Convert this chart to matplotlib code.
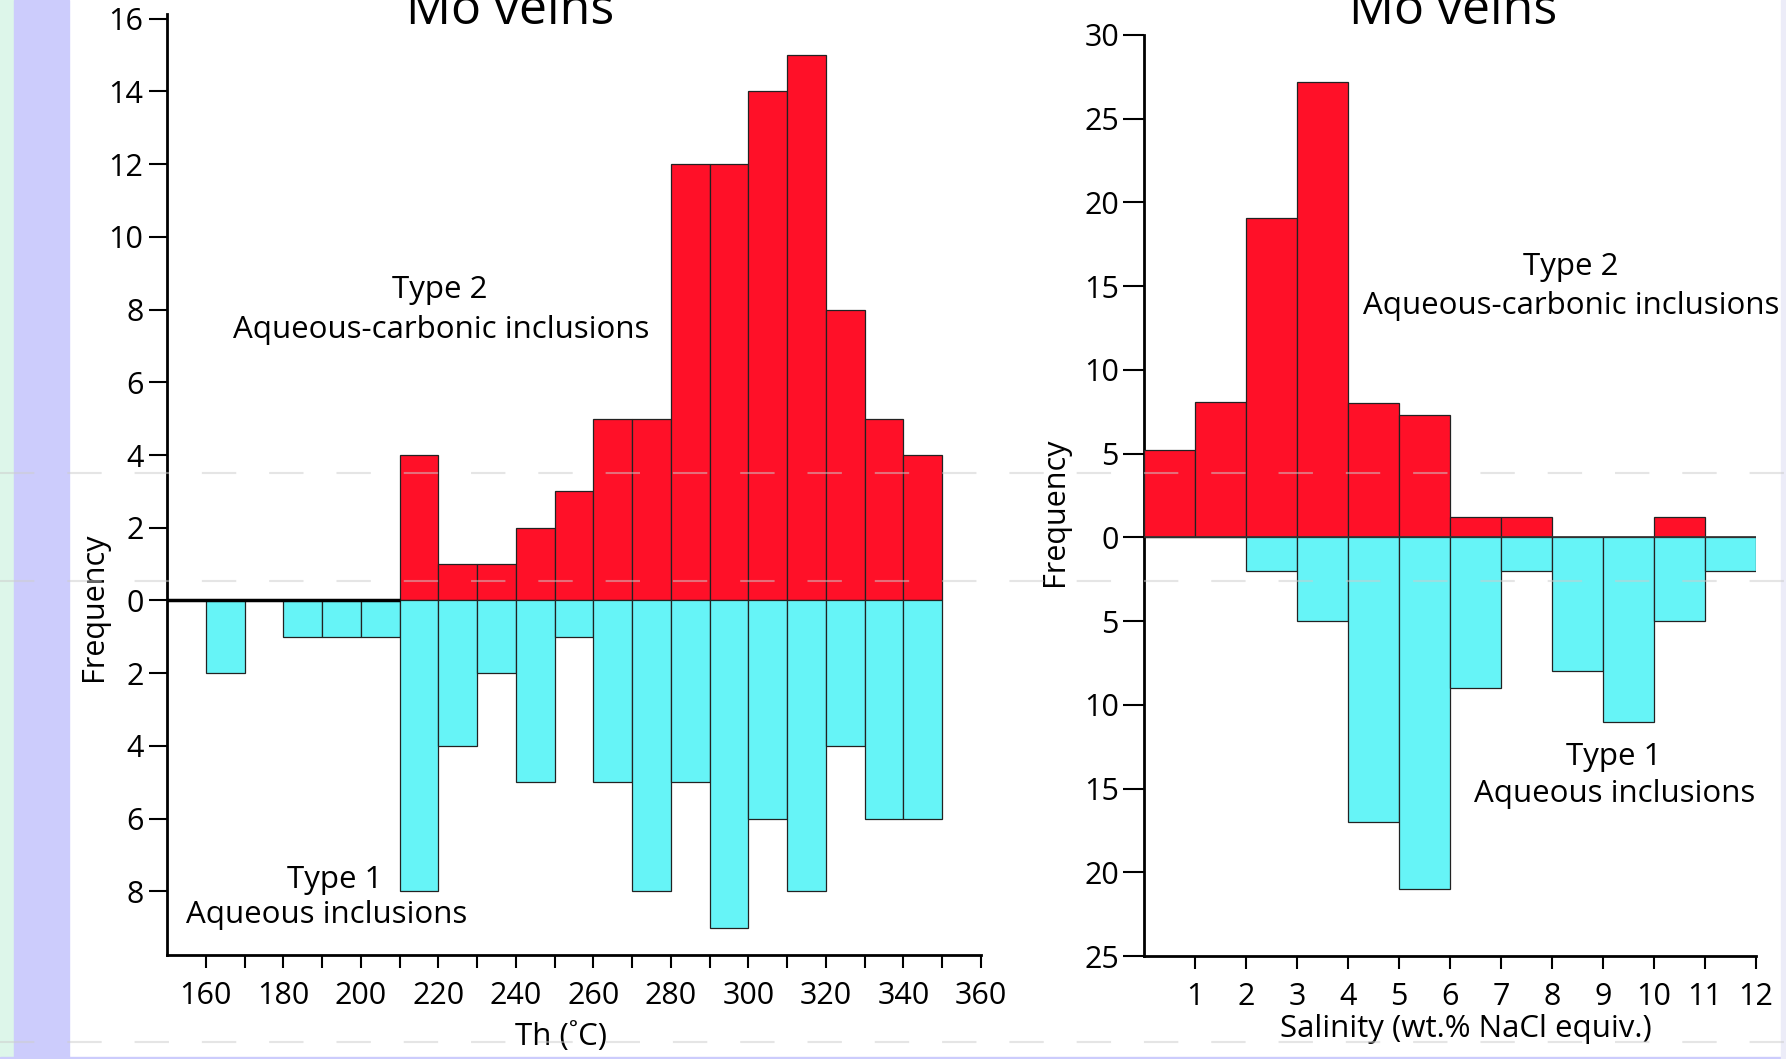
import matplotlib
matplotlib.use("Agg")
import matplotlib.pyplot as plt
from matplotlib.lines import Line2D
from matplotlib.patches import Rectangle
from matplotlib.ticker import FuncFormatter

plt.rcParams['font.family'] = ['Open Sans', 'DejaVu Sans']

# --- data ---
# homogenization temperature, 10 degC bins (left edge of each bin)
th_bins = [160, 170, 180, 190, 200, 210, 220, 230, 240, 250,
           260, 270, 280, 290, 300, 310, 320, 330, 340]
th_type2 = [0, 0, 0, 0, 0, 4, 1, 1, 2, 3, 5, 5, 12, 12, 14, 15, 8, 5, 4]
th_type1 = [2, 0, 1, 1, 1, 8, 4, 2, 5, 1, 5, 8, 5, 9, 6, 8, 4, 6, 6]

# salinity, 1 wt.% bins (left edge)
sal_bins = [0, 1, 2, 3, 4, 5, 6, 7, 8, 9, 10, 11]
sal_type2 = [5.2, 8.1, 19.1, 27.2, 8.0, 7.3, 1.2, 1.2, 0, 0, 1.2, 0]
sal_type1 = [0, 0, 2, 5, 17, 21, 9, 2, 8, 11, 5, 2]

th_ticks = list(range(160, 361, 10))
th_yticks = [-8, -6, -4, -2, 0, 2, 4, 6, 8, 10, 12, 14, 16]
sal_xticks = [1, 2, 3, 4, 5, 6, 7, 8, 9, 10, 11, 12]
sal_yticks = [-25, -20, -15, -10, -5, 0, 5, 10, 15, 20, 25, 30]

RED = '#ff1028'
CYAN = '#66f4f7'
W, H = 1786, 1059


def fx(px):
    return px / W


def fy(py):
    return 1 - py / H


fig = plt.figure(figsize=(W / 100, H / 100), dpi=100)
fig.patch.set_facecolor('white')

# page background strips (screenshot margin)
fig.patches.append(Rectangle((0, 0), fx(14), 1, transform=fig.transFigure,
                             color='#ddf6ea', zorder=0))
fig.patches.append(Rectangle((fx(14), 0), fx(55), 1, transform=fig.transFigure,
                             color='#ccccfc', zorder=0))
fig.patches.append(Rectangle((0, 0), 1, 2 / H, transform=fig.transFigure,
                             color='#ccccfc', zorder=0))
fig.patches.append(Rectangle((fx(1781), 0), fx(5), 1, transform=fig.transFigure,
                             color='#ececf8', zorder=0))

absfmt = FuncFormatter(lambda v, p: '%d' % abs(v))


def style_axes(ax):
    ax.patch.set_alpha(0)
    for s in ['top', 'right']:
        ax.spines[s].set_visible(False)
    for s in ['left', 'bottom']:
        ax.spines[s].set_linewidth(2)
    ax.tick_params(axis='both', direction='out', width=1.5, labelsize=22,
                   color='black')


# ---------------- left: Th ----------------
ax1 = fig.add_axes([fx(167), fy(955), fx(981 - 167), fy(14) - fy(955)])
style_axes(ax1)
ax1.bar(th_bins, th_type2, width=10, align='edge', color=RED,
        edgecolor='#222222', linewidth=0.9, zorder=3)
ax1.bar(th_bins, [-v for v in th_type1], width=10, align='edge', color=CYAN,
        edgecolor='#222222', linewidth=0.9, zorder=3)
ax1.hlines(0, 150, 210, color='black', linewidth=2.5, zorder=4)
ax1.set_xlim(150, 360)
ax1.set_ylim(-9.75, 16.13)
ax1.set_xticks(th_ticks)
ax1.set_xticklabels([str(t) if t % 20 == 0 else '' for t in th_ticks])
ax1.set_yticks(th_yticks)
ax1.yaxis.set_major_formatter(absfmt)
ax1.tick_params(axis='x', length=9, pad=10)
ax1.tick_params(axis='y', length=13, pad=4)

# ---------------- right: salinity ----------------
ax2 = fig.add_axes([fx(1144), fy(956), fx(1756 - 1144), fy(35) - fy(956)])
style_axes(ax2)
ax2.bar(sal_bins, sal_type2, width=1, align='edge', color=RED,
        edgecolor='#222222', linewidth=0.9, zorder=3)
ax2.bar(sal_bins, [-v for v in sal_type1], width=1, align='edge', color=CYAN,
        edgecolor='#222222', linewidth=0.9, zorder=3)
ax2.hlines(0, 0, 12, color='#333333', linewidth=1.2, zorder=4)
ax2.set_xlim(0, 12)
ax2.set_ylim(-25, 30)
ax2.set_xticks(sal_xticks)
ax2.set_yticks(sal_yticks)
ax2.yaxis.set_major_formatter(absfmt)
ax2.tick_params(axis='x', length=9, pad=10)
ax2.tick_params(axis='y', length=15, pad=3)

# ---------------- texts ----------------
tkw = dict(ha='center', va='baseline', fontsize=22.5, color='black')
fig.text(fx(440), fy(298), 'Type 2', **tkw)
fig.text(fx(441), fy(338), 'Aqueous-carbonic inclusions', **tkw)
fig.text(fx(335), fy(888), 'Type 1', **tkw)
fig.text(fx(327), fy(923), 'Aqueous inclusions', **tkw)
fig.text(fx(1571), fy(275), 'Type 2', **tkw)
fig.text(fx(1571), fy(314), 'Aqueous-carbonic inclusions', **tkw)
fig.text(fx(1614), fy(765), 'Type 1', **tkw)
fig.text(fx(1615), fy(802), 'Aqueous inclusions', **tkw)

fig.text(fx(561), fy(1045), 'Th (˚C)', **tkw)
fig.text(fx(1466), fy(1037), 'Salinity (wt.% NaCl equiv.)', **tkw)
fig.text(fx(94), fy(607), 'Frequency', rotation=90, ha='center', va='center',
         fontsize=22)
fig.text(fx(1055), fy(512), 'Frequency', rotation=90, ha='center', va='center',
         fontsize=22)

fig.text(fx(510), fy(24), 'Mo veins', ha='center', va='baseline', fontsize=36)
fig.text(fx(1453), fy(24), 'Mo veins', ha='center', va='baseline', fontsize=36)

# faint dashed guide lines from the web page
for yy in [473, 581, 1042]:
    ln = Line2D([0, 1], [fy(yy), fy(yy)], transform=fig.transFigure,
                color='#cccccc', alpha=0.5, linewidth=1.5, zorder=10)
    ln.set_dashes([16.5, 15.8])
    fig.lines.append(ln)

fig.savefig('out.png', dpi=100)
